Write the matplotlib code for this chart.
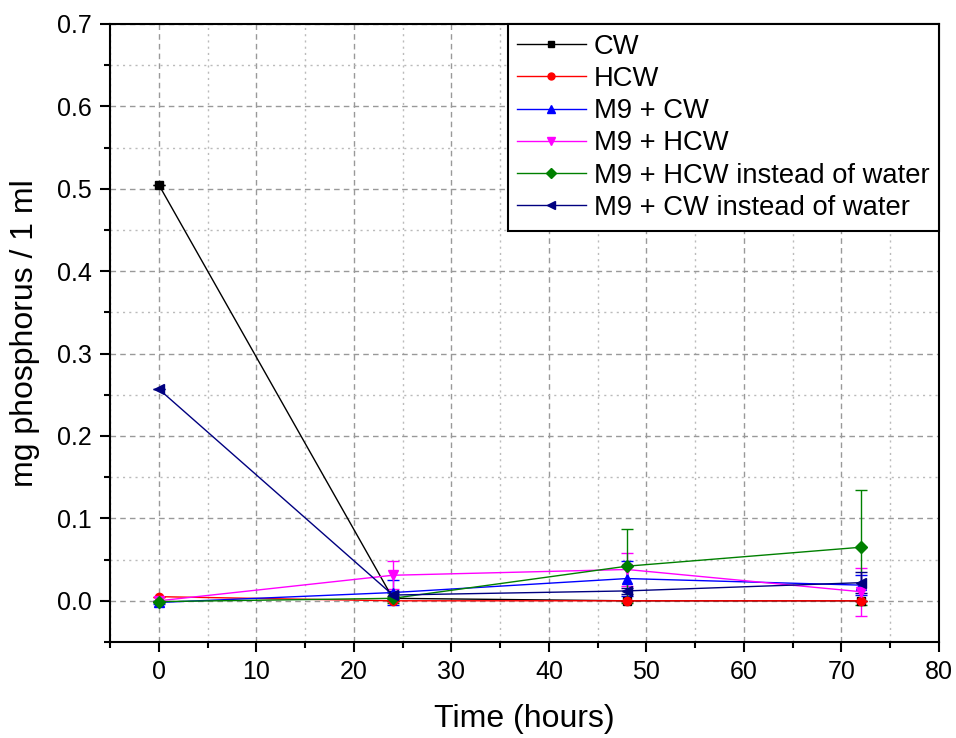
import matplotlib
matplotlib.use("Agg")
import matplotlib.pyplot as plt
from matplotlib.ticker import MultipleLocator, FormatStrFormatter
from matplotlib.lines import Line2D

plt.rcParams['font.family'] = ['Liberation Sans', 'DejaVu Sans']

time_h = [0, 24, 48, 72]
labels = ["CW", "HCW", "M9 + CW", "M9 + HCW",
          "M9 + HCW instead of water", "M9 + CW instead of water"]
cw = [0.505, 0.003, 0.0, 0.0]
cw_err = [0.0, 0.003, 0.0, 0.0]
hcw = [0.005, 0.0, 0.0, 0.0]
hcw_err = [0.0, 0.0, 0.0, 0.0]
m9_cw = [-0.002, 0.010, 0.027, 0.019]
m9_cw_err = [0.002, 0.015, 0.021, 0.012]
m9_hcw = [0.0, 0.031, 0.038, 0.011]
m9_hcw_err = [0.0, 0.017, 0.020, 0.029]
m9_hcw_iw = [-0.001, 0.003, 0.042, 0.065]
m9_hcw_iw_err = [0.001, 0.006, 0.045, 0.070]
m9_cw_iw = [0.257, 0.007, 0.012, 0.022]
m9_cw_iw_err = [0.0, 0.005, 0.004, 0.013]

series = [cw, hcw, m9_cw, m9_hcw, m9_hcw_iw, m9_cw_iw]
errors = [cw_err, hcw_err, m9_cw_err, m9_hcw_err, m9_hcw_iw_err, m9_cw_iw_err]
colors = ["#000000", "#FF0000", "#0000FF", "#FF00FF", "#008000", "#000080"]
markers = ["s", "o", "^", "v", "D", "<"]
msizes = [6, 6, 7, 7, 6, 7]

fig = plt.figure(figsize=(9.56, 7.38), dpi=100)
ax = fig.add_axes([110/956, 1-642/738, (939-110)/956, (642-24)/738])

handles = []
for y, e, c, m, ms, lab in zip(series, errors, colors, markers, msizes, labels):
    ax.errorbar(time_h, y, yerr=e, color=c, marker=m, markersize=ms,
                linewidth=1.0, elinewidth=1.0, capsize=4.3, capthick=1.0)
    handles.append(Line2D([], [], color=c, marker=m, markersize=ms - 1,
                          linewidth=1.0, label=lab))

ax.set_xlim(-5, 80)
ax.set_ylim(-0.05, 0.7)
ax.xaxis.set_major_locator(MultipleLocator(10))
ax.xaxis.set_minor_locator(MultipleLocator(5))
ax.yaxis.set_major_locator(MultipleLocator(0.1))
ax.yaxis.set_minor_locator(MultipleLocator(0.05))
ax.yaxis.set_major_formatter(FormatStrFormatter('%.1f'))

ax.grid(which='major', color='#999999', linestyle=(0, (4, 3)), linewidth=1.0)
ax.grid(which='minor', color='#bbbbbb', linestyle=(0, (1.5, 3)), linewidth=1.0)
ax.set_axisbelow(True)

ax.tick_params(which='major', direction='out', length=7, width=1.5,
               labelsize=18, pad=6, top=False, right=False)
ax.tick_params(which='minor', direction='out', length=4, width=1.5,
               top=False, right=False)
for s in ax.spines.values():
    s.set_linewidth(1.5)

ax.set_xlabel("Time (hours)", fontsize=23, labelpad=14)
ax.set_ylabel("mg phosphorus / 1 ml", fontsize=23, labelpad=12)

leg = ax.legend(handles=handles, loc='upper right', fontsize=19.7, frameon=True,
                fancybox=False, borderaxespad=0, handlelength=2.5,
                labelspacing=0.23, handletextpad=0.3, borderpad=0.35)
leg.get_frame().set_edgecolor('black')
leg.get_frame().set_linewidth(1.5)
leg.get_frame().set_alpha(1)

fig.savefig("out.png", dpi=100)
